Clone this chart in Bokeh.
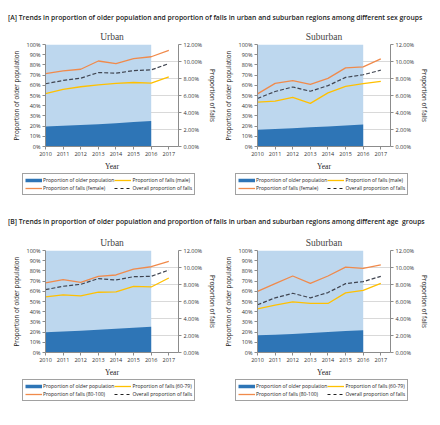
from bokeh.plotting import figure
from bokeh.models import (Range1d, LinearAxis, FixedTicker, NumeralTickFormatter,
                          Legend, LegendItem, Grid, Div, Spacer, ColumnDataSource)
from bokeh.layouts import column, row
from bokeh.embed import file_html
from bokeh.resources import INLINE

years = [2010, 2011, 2012, 2013, 2014, 2015, 2016, 2017]
area_years = [2010, 2011, 2012, 2013, 2014, 2015, 2016]

# [A] sex groups, Urban (percent)
a_urban_older = [19.5, 20.3, 21.0, 21.9, 22.9, 24.0, 25.0]
a_urban_male = [6.21, 6.72, 7.03, 7.26, 7.42, 7.53, 7.46, 8.19]
a_urban_female = [8.58, 8.89, 9.09, 10.06, 9.75, 10.33, 10.56, 11.30]
a_urban_overall = [7.38, 7.77, 8.04, 8.70, 8.62, 8.93, 9.01, 9.75]
# [A] sex groups, Suburban
a_sub_older = [16.5, 17.2, 18.0, 18.8, 19.7, 20.7, 21.6]
a_sub_male = [5.23, 5.34, 5.77, 5.07, 6.31, 7.08, 7.39, 7.67]
a_sub_female = [6.19, 7.43, 7.74, 7.32, 8.01, 9.25, 9.37, 10.30]
a_sub_overall = [5.65, 6.47, 7.00, 6.50, 7.16, 8.13, 8.44, 8.98]
# [B] age groups, Urban
b_urban_older = [19.8, 20.5, 21.3, 22.2, 23.2, 24.3, 25.3]
b_urban_young = [6.54, 6.78, 6.66, 7.09, 7.13, 7.79, 7.71, 8.77]
b_urban_old = [8.18, 8.57, 8.26, 8.96, 9.12, 9.82, 10.09, 10.71]
b_urban_overall = [7.40, 7.79, 8.02, 8.69, 8.53, 8.92, 8.96, 9.70]
# [B] age groups, Suburban
b_sub_older = [16.9, 17.4, 18.2, 19.0, 20.0, 21.0, 21.8]
b_sub_young = [5.14, 5.57, 5.96, 5.77, 5.77, 7.01, 7.32, 8.14]
b_sub_old = [7.20, 8.10, 9.00, 8.14, 9.00, 10.05, 9.90, 10.32]
b_sub_overall = [5.61, 6.43, 6.97, 6.43, 7.05, 8.10, 8.34, 8.96]

left_ticks = [0, 0.1, 0.2, 0.3, 0.4, 0.5, 0.6, 0.7, 0.8, 0.9, 1.0]
right_ticks = [0, 0.02, 0.04, 0.06, 0.08, 0.10, 0.12]

LIGHT = "#BDD7EE"
DARK = "#2E75B6"
ORANGE = "#F08A4B"
YELLOW = "#FFC000"
DASH = "#3F4450"
AXIS = "#8C8C8C"
SANS = "Open Sans"
SERIF = "Liberation Serif"


def style_axis(ax, size="5.5px"):
    ax.axis_line_color = AXIS
    ax.major_tick_line_color = AXIS
    ax.minor_tick_line_color = None
    ax.major_tick_in = 0
    ax.major_tick_out = 3
    ax.major_label_text_font = SANS
    ax.major_label_text_font_size = size
    ax.major_label_text_color = "#333333"
    ax.major_label_standoff = 2
    ax.axis_label_text_font_style = "normal"
    ax.axis_label_text_color = "#222222"
    ax.axis_label_standoff = 3


def panel(title, older, yellow, orange, overall):
    p = figure(width=212, height=147, output_backend="svg", toolbar_location=None,
               x_range=Range1d(2010, 2017.55), y_range=Range1d(0, 1),
               min_border_left=35, min_border_right=40, min_border_top=17,
               min_border_bottom=27, outline_line_color=None, title=title)
    p.extra_y_ranges = {"falls": Range1d(0, 0.12)}
    p.title.align = "center"
    p.title.text_font = SERIF
    p.title.text_font_size = "9.5px"
    p.title.text_font_style = "normal"
    p.title.standoff = 6
    p.xgrid.visible = False
    p.ygrid.visible = False
    p.add_layout(Grid(dimension=1, ticker=FixedTicker(ticks=right_ticks),
                      y_range_name="falls", grid_line_color="#D9D9D9"))

    src_area = ColumnDataSource(dict(x=area_years, older=[v / 100 for v in older],
                                     full=[1.0] * len(area_years)))
    p.varea(x="x", y1=0, y2="full", source=src_area, fill_color=LIGHT)
    p.varea(x="x", y1=0, y2="older", source=src_area, fill_color=DARK)

    src = ColumnDataSource(dict(x=years, yel=[v / 100 for v in yellow],
                                ora=[v / 100 for v in orange],
                                ovr=[v / 100 for v in overall]))
    p.line(x="x", y="yel", source=src, y_range_name="falls",
           line_color=YELLOW, line_width=1.3)
    p.line(x="x", y="ora", source=src, y_range_name="falls",
           line_color=ORANGE, line_width=1.3)
    p.line(x="x", y="ovr", source=src, y_range_name="falls",
           line_color=DASH, line_width=1.2, line_dash="4 2")

    p.xaxis.ticker = FixedTicker(ticks=years)
    p.xaxis.axis_label = "Year"
    p.xaxis.axis_label_text_font = SERIF
    p.xaxis.axis_label_text_font_size = "7.5px"
    style_axis(p.xaxis[0])

    p.yaxis.ticker = FixedTicker(ticks=left_ticks)
    p.yaxis.formatter = NumeralTickFormatter(format="0%")
    p.yaxis.axis_label = "Proportion of older population"
    p.yaxis.axis_label_text_font = SANS
    p.yaxis.axis_label_text_font_size = "6.3px"
    style_axis(p.yaxis[0])

    ra = LinearAxis(y_range_name="falls", ticker=FixedTicker(ticks=right_ticks),
                    formatter=NumeralTickFormatter(format="0.00%"),
                    axis_label="Proportion of falls")
    ra.axis_label_text_font = SANS
    ra.axis_label_text_font_size = "6.3px"
    style_axis(ra)
    p.add_layout(ra, "right")
    return p


def legend_fig(older, yellow, orange, overall, ylab, olab, height, xoff):
    # the key's own renderers hold the same series; the view range keeps them off-screen
    q = figure(width=212, height=height, output_backend="svg", toolbar_location=None,
               x_range=Range1d(0, 1), y_range=Range1d(0, 1),
               x_axis_type=None, y_axis_type=None, outline_line_color=None,
               min_border=0)
    q.xgrid.visible = False
    q.ygrid.visible = False
    r_old = q.line(x=area_years, y=older, line_color=DARK, line_width=3.5)
    r_yel = q.line(x=years, y=yellow, line_color=YELLOW, line_width=1.3)
    r_ora = q.line(x=years, y=orange, line_color=ORANGE, line_width=1.3)
    r_ovr = q.line(x=years, y=overall, line_color="#222222", line_width=1.1,
                   line_dash="3 3")
    # vertical orientation fills columns first
    items = [
        LegendItem(label="Proportion of older population", renderers=[r_old]),
        LegendItem(label=olab, renderers=[r_ora]),
        LegendItem(label=ylab, renderers=[r_yel]),
        LegendItem(label="Overall proportion of falls", renderers=[r_ovr]),
    ]
    leg = Legend(items=items, orientation="vertical", ncols=2, location=(xoff, 0),
                 label_text_font=SANS, label_text_font_size="5px",
                 label_text_color="#222222",
                 glyph_width=17, glyph_height=8, label_height=8,
                 label_standoff=1, spacing=0, padding=2, margin=0,
                 border_line_color="#444444", border_line_width=1,
                 background_fill_color="white")
    q.add_layout(leg, "center")
    return q


fA1 = panel("Urban", a_urban_older, a_urban_male, a_urban_female, a_urban_overall)
fA2 = panel("Suburban", a_sub_older, a_sub_male, a_sub_female, a_sub_overall)
fB1 = panel("Urban", b_urban_older, b_urban_young, b_urban_old, b_urban_overall)
fB2 = panel("Suburban", b_sub_older, b_sub_young, b_sub_old, b_sub_overall)
lA1 = legend_fig(a_urban_older, a_urban_male, a_urban_female, a_urban_overall,
                 "Proportion of falls (male)", "Proportion of falls (female)", 22, 14)
lA2 = legend_fig(a_sub_older, a_sub_male, a_sub_female, a_sub_overall,
                 "Proportion of falls (male)", "Proportion of falls (female)", 22, 15)
lB1 = legend_fig(b_urban_older, b_urban_young, b_urban_old, b_urban_overall,
                 "Proportion of falls (60-79)", "Proportion of falls (80-100)", 22, 14)
lB2 = legend_fig(b_sub_older, b_sub_young, b_sub_old, b_sub_overall,
                 "Proportion of falls (60-79)", "Proportion of falls (80-100)", 22, 15)

div_style = {"font-family": SANS, "font-size": "6.8px", "font-weight": "600",
             "white-space": "nowrap", "color": "#222222", "line-height": "16px",
             "margin": "0", "padding": "0"}
divA = Div(text="[A] Trends in proportion of older population and proportion of falls in urban and suburban regions among different sex groups",
           width=424, height=16, styles=div_style)
divB = Div(text="[B] Trends in proportion of older population and proportion of falls in urban and suburban regions among different age&nbsp; groups",
           width=424, height=18, styles=div_style)

inner = column(Spacer(width=424, height=10), divA, row(fA1, fA2), row(lA1, lA2),
               Spacer(width=424, height=19), divB, row(fB1, fB2), row(lB1, lB2))
layout = row(Spacer(width=8, height=10), inner)

open("out.html", "w").write(file_html(layout, INLINE))
